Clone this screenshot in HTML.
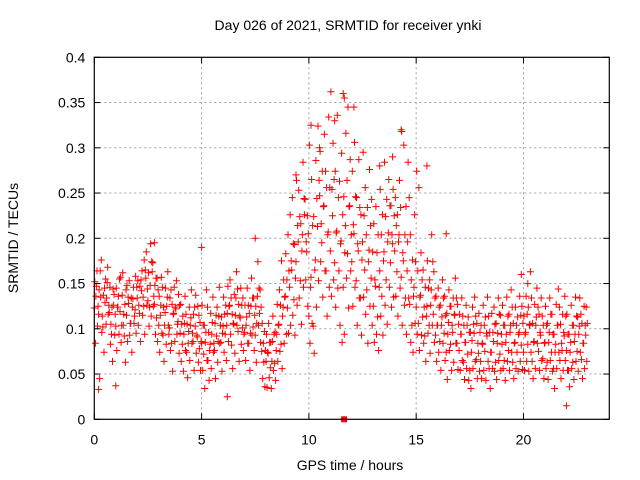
<!DOCTYPE html>
<html><head><meta charset="utf-8"><style>
body{margin:0;background:#fff}
svg{display:block;font-family:"Liberation Sans",sans-serif}
</style></head><body>
<svg id="chart" width="640" height="480" viewBox="0 0 640 480">
<rect width="640" height="480" fill="#fff"/>
<g id="grid"></g>
<g id="pts"></g>
<g id="axes"></g>
<text x="348" y="30" font-size="14" text-anchor="middle">Day 026 of 2021, SRMTID for receiver ynki</text>
<text transform="translate(18,238) rotate(-90)" font-size="14" text-anchor="middle">SRMTID / TECUs</text>
<text x="350" y="470" font-size="14" text-anchor="middle">GPS time / hours</text>
</svg>
<script>
const xTicks=[0,5,10,15,20];
const yTicks=[0,0.05,0.1,0.15,0.2,0.25,0.3,0.35,0.4];
const yTickLabels=["0","0.05","0.1","0.15","0.2","0.25","0.3","0.35","0.4"];
// values in thousandths of TECU, 10 samples per hour, 0..22.9 h
const seriesA=[123,147,116,135,102,129,151,118,94,126,103,124,119,137,92,115,128,106,133,121,134,117,142,125,156,131,148,163,127,112,104,126,93,118,135,101,84,117,122,108,95,83,106,74,97,112,86,103,91,78,84,72,96,65,83,107,76,92,114,85,103,94,117,126,82,105,134,97,112,101,96,113,84,125,102,93,136,117,75,63,64,73,57,86,62,94,105,83,124,136,123,146,165,132,174,196,153,204,226,185,114,157,103,176,213,247,195,236,164,207,186,225,173,208,164,197,146,214,183,236,174,205,153,186,134,196,165,143,187,156,125,147,113,164,136,185,154,206,173,194,186,163,204,157,175,134,196,127,104,146,124,106,137,113,92,125,104,143,116,93,104,86,113,95,74,107,83,96,115,84,76,94,63,85,72,54,87,95,66,73,64,83,75,92,56,74,86,63,95,72,83,65,94,76,104,63,85,74,96,82,74,96,83,105,64,86,113,75,93,67,85,63,96,74,56,83,104,65,76,92,76,54,85,63,94,75,103,66,84,93];
const seriesB=[152,164,143,176,137,155,168,146,124,138,145,136,157,162,127,148,153,134,146,158,153,147,164,176,185,162,194,173,148,156,136,157,124,145,163,134,127,146,153,138,127,114,136,105,124,143,116,137,125,107,126,104,143,96,117,135,106,124,146,113,135,126,147,154,116,138,163,127,145,134,126,145,117,156,134,125,174,143,106,97,94,106,85,114,96,127,143,175,154,183,204,226,245,193,264,253,216,284,243,225,303,265,224,286,324,296,274,315,256,334,362,305,274,336,263,294,246,316,345,287,274,306,245,287,226,295,256,234,276,243,216,235,204,254,226,284,243,265,236,254,245,226,264,318,303,235,284,204,176,226,274,256,184,165,146,175,154,204,163,136,145,126,154,136,117,143,125,134,156,127,116,134,104,126,113,96,124,135,106,117,104,126,113,135,96,117,124,106,134,115,126,104,135,116,143,106,124,113,136,125,114,136,124,163,106,127,145,116,134,104,125,106,134,116,94,127,144,105,116,136,116,94,126,104,135,113,134,106,125,124];
const seriesC=[84,103,45,96,74,105,116,83,64,93,76,94,85,104,63,86,93,74,106,95,104,86,115,94,126,103,114,125,94,86,74,95,64,83,104,76,53,86,94,73,64,53,76,46,65,84,54,73,63,54,54,34,65,43,56,74,45,63,84,53,74,65,86,94,56,73,104,64,83,76,65,84,54,93,76,63,104,85,45,36,35,46,34,54,43,64,75,56,84,94,95,104,115,93,126,134,105,146,154,125,84,106,73,124,153,174,135,164,114,146,136,154,124,145,104,85,94,156,123,164,125,146,104,134,93,135,116,84,125,104,85,94,76,114,93,126,105,146,124,135,136,114,145,104,126,94,134,85,74,106,94,76,93,84,64,95,73,104,85,64,74,54,84,65,44,76,54,63,84,55,54,65,44,56,43,34,56,64,45,53,45,54,43,64,34,56,53,44,65,54,56,43,64,54,74,45,56,53,64,55,54,64,53,74,45,56,84,54,65,45,56,44,65,53,34,56,74,45,54,65,54,36,56,44,64,53,74,45,56,64];
const seriesD=[136,125,164,114,145,134,126,105,144,116,124,155,104,116,143,135,106,124,114,146,126,154,135,165,144,124,174,136,156,143,115,146,104,125,94,143,116,124,105,126,105,94,116,84,104,95,124,93,115,86,104,85,124,76,94,84,115,86,104,95,116,104,125,134,106,115,144,114,126,94,104,126,95,134,115,106,145,124,84,76,74,85,64,94,76,104,126,114,135,154,164,175,194,156,214,224,186,244,196,205,146,214,165,244,264,216,235,274,204,256,254,265,206,245,194,226,184,264,235,204,215,246,194,234,176,225,204,174,214,185,154,184,146,204,175,224,196,236,204,225,214,196,234,184,204,164,245,154,136,174,164,135,154,124,114,145,126,174,134,104,124,104,134,115,94,125,104,116,134,105,94,114,85,104,96,74,105,114,84,96,84,104,95,114,74,96,105,84,116,94,104,85,114,96,124,84,104,94,115,106,94,116,104,134,85,104,124,96,114,84,104,85,116,94,74,104,124,84,96,114,94,74,104,86,114,94,116,84,104,106];
const seriesOffsets=[0,0.025,0.05,0.075];
const outlierHours=[0.2,1.0,11.6,11.65,12.1,14.3,9.4,10.1,15.5,2.8,5.0,16.4,19.9,20.2,22.0,6.2,7.5,13.9,13.3,10.5,11.2];
const outlierValues=[0.033,0.037,0.36,0.355,0.345,0.32,0.27,0.325,0.28,0.195,0.19,0.205,0.16,0.15,0.015,0.025,0.2,0.29,0.28,0.3,0.33];
const NS='http://www.w3.org/2000/svg';
const L=94.3,R=609.3,T=57.3,B=419.3;
const xs=h=>L+h/24*(R-L);
const ys=v=>B-v/0.4*(B-T);
function mk(tag,attrs,parent){const e=document.createElementNS(NS,tag);for(const k in attrs)e.setAttribute(k,attrs[k]);parent.appendChild(e);return e;}
const grid=document.getElementById('grid'),axes=document.getElementById('axes'),pts=document.getElementById('pts');
yTicks.forEach((v,i)=>{const y=ys(v);
 if(i>0&&i<yTicks.length-1){const g=mk('line',{x1:L,x2:R,y1:y,y2:y,stroke:'#a0a0a0','stroke-dasharray':'2,3'},grid);
 
 }
 mk('line',{x1:L,x2:L+6,y1:y,y2:y,stroke:'#000'},axes);
 mk('line',{x1:R,x2:R-6,y1:y,y2:y,stroke:'#000'},axes);
 const t=mk('text',{x:L-9,y:y+5,'font-size':14,'text-anchor':'end'},axes);t.textContent=yTickLabels[i];
 
 
});
xTicks.forEach(h=>{const x=xs(h);
 if(h>0){const g=mk('line',{x1:x,x2:x,y1:T,y2:B,stroke:'#a0a0a0','stroke-dasharray':'2,3'},grid);
 
 }
 mk('line',{x1:x,x2:x,y1:B,y2:B-6,stroke:'#000'},axes);
 mk('line',{x1:x,x2:x,y1:T,y2:T+6,stroke:'#000'},axes);
 const t=mk('text',{x:x,y:B+25,'font-size':14,'text-anchor':'middle'},axes);t.textContent=String(h);
 
 
});
const frame=mk('rect',{x:L,y:T,width:R-L,height:B-T,fill:'none',stroke:'#000','stroke-width':1.2},axes);


let d='';
function plus(h,v){const x=xs(h),y=ys(v);d+=`M${(x-3.5).toFixed(1)} ${y.toFixed(1)}h7M${x.toFixed(1)} ${(y-3.5).toFixed(1)}v7`;}
[seriesA,seriesB,seriesC,seriesD].forEach((s,k)=>s.forEach((v,i)=>plus(i*0.1+seriesOffsets[k],v/1000)));
outlierHours.forEach((h,i)=>plus(h,outlierValues[i]));
const p=mk('path',{d:d,stroke:'#ff0000','stroke-width':1,fill:'none'},pts);


const sq=mk('rect',{x:xs(11.64)-3,y:ys(0)-3,width:6,height:6,fill:'#ff0000'},pts);


</script>
</body></html>
